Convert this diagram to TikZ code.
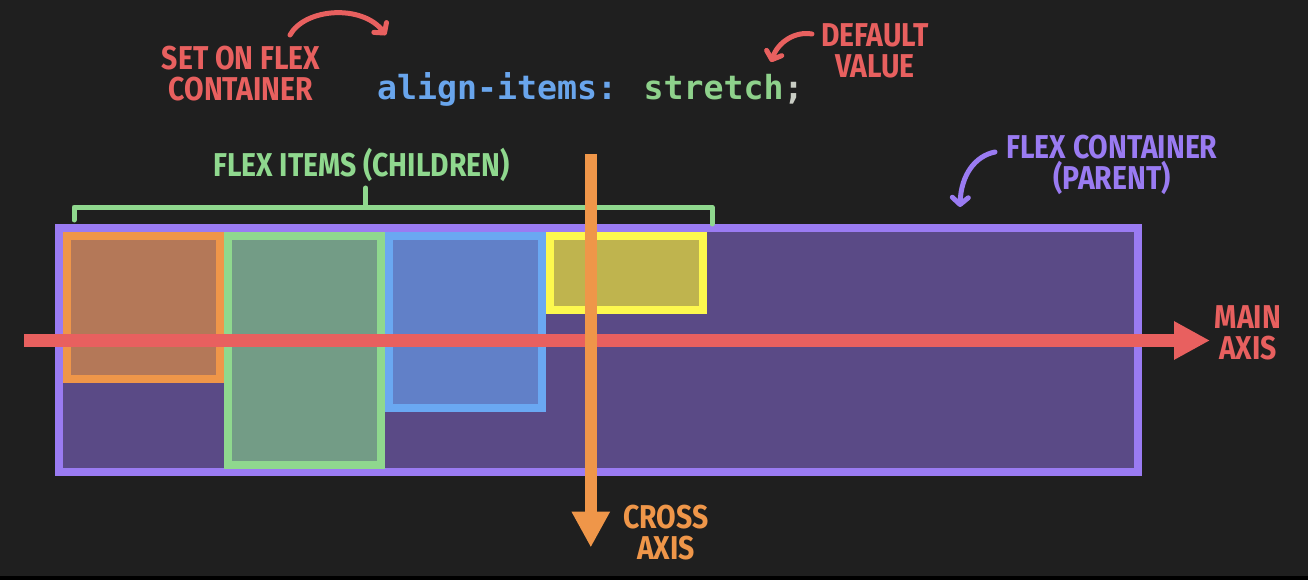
\documentclass[tikz,border=0pt]{standalone}
\usepackage{fontspec}
\usetikzlibrary{arrows.meta,positioning}
\newfontfamily\handfont[FakeStretch=0.86]{Fira Sans}
\newfontfamily\codefont{DejaVu Sans Mono}
\definecolor{bgC}{HTML}{1F1F1F}
\definecolor{redC}{HTML}{E8605F}
\definecolor{purpleC}{HTML}{9A7BF2}
\definecolor{purpleF}{HTML}{5A4A86}
\definecolor{orangeC}{HTML}{EF9649}
\definecolor{orangeF}{HTML}{B47858}
\definecolor{greenC}{HTML}{8FD88E}
\definecolor{greenF}{HTML}{739C86}
\definecolor{blueC}{HTML}{6AA8F2}
\definecolor{blueF}{HTML}{6180C8}
\definecolor{yellowC}{HTML}{FDF84E}
\definecolor{yellowF}{HTML}{BFB44E}
\definecolor{codeblue}{HTML}{69A5EC}
\definecolor{codegreen}{HTML}{8ED18B}
\definecolor{codegray}{HTML}{C9CDC4}
\begin{document}
\begin{tikzpicture}[x=1pt,y=-1pt,
    lbl/.style={inner sep=0pt,align=center,text=#1,font=\handfont\bfseries\fontsize{33}{31}\selectfont},
    box/.style={draw=#1,line width=8pt,anchor=north west,inner sep=0pt,minimum width=153pt},
    axis/.style={draw=#1,line width=12.5pt,-{Triangle[length=36pt,width=36pt]}},
    hand/.style={draw=#1,line width=5pt,line cap=round,-{Straight Barb[round,length=7pt,width=16pt]}}]
  \fill[bgC] (0,0) rectangle (1308,580);
  \fill[black] (0,575.7) rectangle (1308,580);
  % container and items
  \node[box=purpleC,fill=purpleF,minimum width=1078.4pt,minimum height=244pt] (parent) at (55.3,224) {};
  \node[box=orangeC,fill=orangeF,minimum height=142.7pt] (item1) at ([shift={(8,8)}]parent.north west) {};
  \node[box=greenC,fill=greenF,minimum height=229pt] (item2) at (item1.north east) {};
  \node[box=blueC,fill=blueF,minimum height=172.3pt] (item3) at (item2.north east) {};
  \node[box=yellowC,fill=yellowF,minimum height=74pt] (item4) at (item3.north east) {};
  % labels
  \node[anchor=base west,inner sep=0pt,font=\codefont\bfseries\fontsize{33.2}{36}\selectfont] (code) at (377,100)
    {\textcolor{codeblue}{align-items:} \textcolor{codegreen}{stretch}\textcolor{codegray}{;}};
  \node[lbl=redC] (seton) at (241,74) {SET ON FLEX\\CONTAINER};
  \node[lbl=redC] (default) at (875,51) {DEFAULT\\VALUE};
  \node[lbl=greenC,anchor=base] (items) at (361.5,177) {FLEX ITEMS (CHILDREN)};
  \node[lbl=purpleC] (container) at (1112,165) {FLEX CONTAINER\\(PARENT)};
  \node[lbl=redC] (main) at (1248,333) {MAIN\\AXIS};
  \node[lbl=orangeC] (cross) at (666,533) {CROSS\\AXIS};
  % bracket
  \draw[greenC,line width=5pt,line cap=round,line join=round] (74,220) -- (74,207) -- (712,207) -- (712,224);
  \draw[greenC,line width=5pt,line cap=round] (365.7,207) -- (365.7,188);
  % axes
  \coordinate (mstart) at (24.3,340.5);
  \coordinate (mend) at (1210,340.5);
  \coordinate (cstart) at (590.8,154);
  \coordinate (cend) at (590.8,547.5);
  \draw[axis=redC] (mstart) -- (mend);
  \draw[axis=orangeC] (cstart) -- (cend);
  % hand arrows
  \coordinate (s1) at (290,35);\coordinate (e1) at (386,35);
  \coordinate (s2) at (812,34);\coordinate (e2) at (771,62);
  \coordinate (s3) at (995,152);\coordinate (e3) at (960,207);
  \draw[hand=redC] (s1) .. controls (305,8) and (362,4) .. (e1);
  \draw[hand=redC] (s2) .. controls (795,31) and (778,42) .. (e2);
  \draw[hand=purpleC] (s3) .. controls (975,156) and (961,175) .. (e3);
\end{tikzpicture}
\end{document}
